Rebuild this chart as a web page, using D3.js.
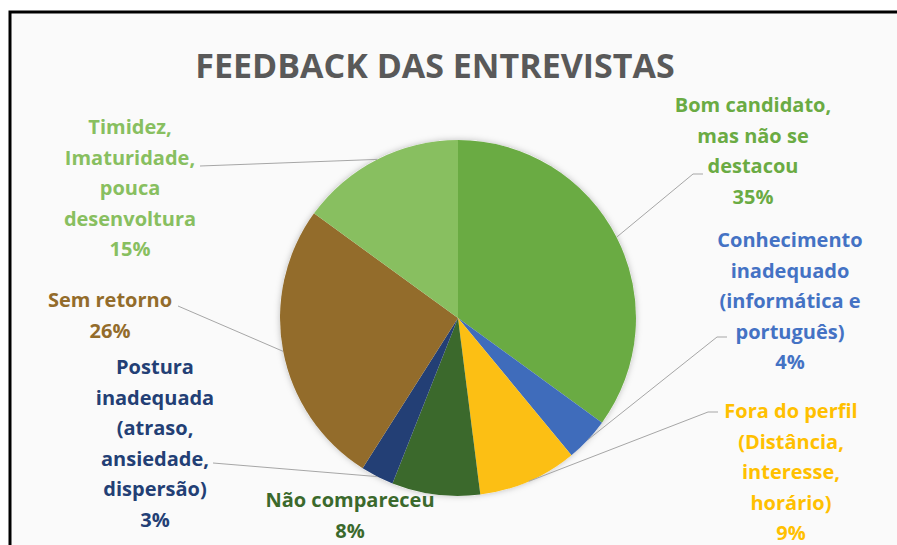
<!DOCTYPE html>
<html>
<head>
	<meta charset='utf-8'>
	<style>
		body { margin: 0; background: #fff; }
		svg { display: block; }
		text { font-family: 'Open Sans', Lato, sans-serif; font-weight: bold; }
	</style>
</head>
<body>
	<svg></svg>
	<script src="https://d3js.org/d3.v7.min.js"></script>
	<script>
		// data
		var categories = ['Bom candidato, mas não se destacou', 'Conhecimento inadequado (informática e português)',
			'Fora do perfil (Distância, interesse, horário)', 'Não compareceu',
			'Postura inadequada (atraso, ansiedade, dispersão)', 'Sem retorno',
			'Timidez, Imaturidade, pouca desenvoltura'];
		var values = [35, 4, 9, 8, 3, 26, 15];
		var labelLines = [
			['Bom candidato,', 'mas não se', 'destacou'],
			['Conhecimento', 'inadequado', '(informática e', 'português)'],
			['Fora do perfil', '(Distância,', 'interesse,', 'horário)'],
			['Não compareceu'],
			['Postura', 'inadequada', '(atraso,', 'ansiedade,', 'dispersão)'],
			['Sem retorno'],
			['Timidez,', 'Imaturidade,', 'pouca', 'desenvoltura']
		];
		var sliceColors = ['#6aab43', '#3f6cbb', '#fcbf14', '#3b692c', '#233f75', '#936c2b', '#88bf60'];
		var textColors = ['#6aab43', '#4472c4', '#ffc000', '#3b692c', '#233f75', '#936c2b', '#88bf60'];
		var title = 'FEEDBACK DAS ENTREVISTAS';

		var width = 897, height = 545;
		var cx = 458, cy = 318, radius = 178;
		var lineH = 30.5;

		// label layout: centre x, first baseline y, leader end point (text side), elbow
		var labelPos = [
			{ x: 753, y: 112, end: [703, 174], elbow: [693, 174] },
			{ x: 790, y: 247, end: [727, 337], elbow: [717, 337] },
			{ x: 791, y: 418, end: [718, 412], elbow: [708, 412] },
			{ x: 350, y: 507, end: null },
			{ x: 155, y: 374, end: [213, 463], elbow: null },
			{ x: 110, y: 307, end: [178, 306], elbow: null },
			{ x: 130, y: 134, end: [200, 166], elbow: null }
		];

		var svg = d3.select('svg').attr('width', width).attr('height', height);

		var defs = svg.append('defs');
		var f = defs.append('filter').attr('id', 'shadow').attr('x', '-10%').attr('y', '-10%').attr('width', '120%').attr('height', '120%');
		f.append('feDropShadow').attr('dx', 0).attr('dy', 0).attr('stdDeviation', 3).attr('flood-color', '#000').attr('flood-opacity', 0.25);

		// chart frame
		svg.append('rect').attr('x', 10).attr('y', 12).attr('width', 900).attr('height', 560)
			.attr('fill', '#fafafa').attr('stroke', '#000').attr('stroke-width', 3);

		svg.append('text').attr('x', 435).attr('y', 78).attr('text-anchor', 'middle')
			.attr('font-size', 34).attr('fill', '#595959').text(title);

		var pie = d3.pie().sort(null).value(function (d) { return d; });
		var arcs = pie(values);
		var arc = d3.arc().innerRadius(0).outerRadius(radius);
		var edge = d3.arc().innerRadius(radius).outerRadius(radius);

		var g = svg.append('g').attr('transform', 'translate(' + cx + ',' + cy + ')');
		g.append('circle').attr('r', radius).attr('fill', '#fafafa').attr('filter', 'url(#shadow)');
		g.selectAll('path.slice')
			.data(arcs)
			.enter()
			.append('path')
			.attr('class', 'slice')
			.attr('d', arc)
			.attr('fill', function (d, i) { return sliceColors[i]; });

		// leader lines
		arcs.forEach(function (d, i) {
			var p = labelPos[i];
			if (!p.end) return;
			var c = edge.centroid(d);
			var pts = [[cx + c[0], cy + c[1]]];
			if (p.elbow) pts.push(p.elbow);
			pts.push(p.end);
			svg.append('path').attr('d', d3.line()(pts))
				.attr('fill', 'none').attr('stroke', '#a6a6a6').attr('stroke-width', 1);
		});

		// labels
		arcs.forEach(function (d, i) {
			var p = labelPos[i];
			var lines = labelLines[i].concat([values[i] + '%']);
			var t = svg.append('text').attr('text-anchor', 'middle').attr('font-size', 20)
				.attr('fill', textColors[i]);
			lines.forEach(function (s, k) {
				t.append('tspan').attr('x', p.x).attr('y', p.y + k * lineH).text(s);
			});
		});
	</script>
</body>
</html>
